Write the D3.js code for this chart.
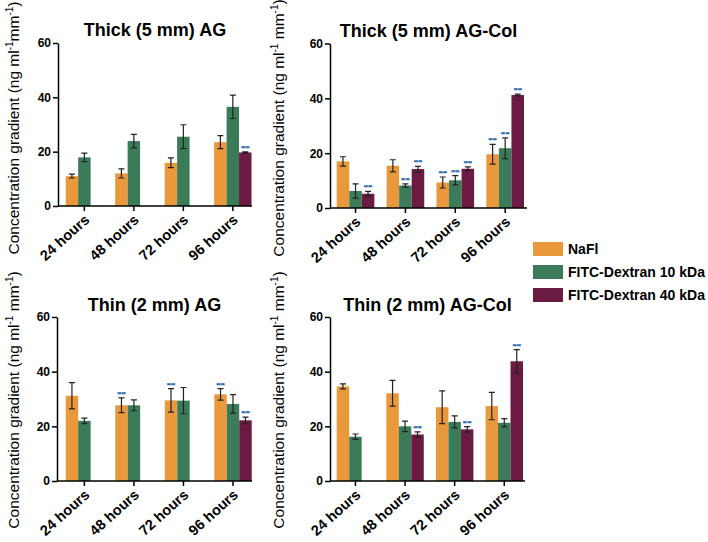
<!DOCTYPE html>
<html>
<head>
<meta charset="utf-8">
<script src="https://cdn.jsdelivr.net/npm/d3@7"></script>
<style>
  body { margin: 0; background: #fff; }
  svg { font-family: 'Liberation Sans', Arial, Helvetica, sans-serif; }
  .axis path, .axis line { stroke: #000; stroke-width: 1.5; }
  .axis text { font-size: 12px; font-weight: bold; fill: #000; }
  .xaxis text { font-size: 14.5px; }
</style>
</head>
<body>
<div id="chart"></div>
<script>
var times = ['24 hours', '48 hours', '72 hours', '96 hours'];
var series = ['NaFl', 'FITC-Dextran 10 kDa', 'FITC-Dextran 40 kDa'];
var colors = ['#e9993c', '#3b7b5a', '#6b1a42'];
var yTicks = [0, 20, 40, 60];

// Thick (5 mm) AG
var thickAgNafl = [11.0, 12.0, 15.9, 23.5];
var thickAgNaflErr = [0.7, 1.7, 1.8, 2.4];
var thickAgFd10 = [17.9, 23.9, 25.5, 36.5];
var thickAgFd10Err = [1.6, 2.5, 4.4, 4.3];
var thickAgFd40 = [null, null, null, 19.7];
var thickAgFd40Err = [0, 0, 0, 0.2];
var thickAgMarks = [[0, 0, 0, 0], [0, 0, 0, 0], [0, 0, 0, 1]];

// Thick (5 mm) AG-Col
var thickColNafl = [17.0, 15.4, 9.3, 19.6];
var thickColNaflErr = [1.7, 2.2, 2.0, 3.6];
var thickColFd10 = [6.2, 8.2, 10.1, 21.8];
var thickColFd10Err = [2.6, 0.6, 1.7, 3.8];
var thickColFd40 = [5.2, 14.2, 14.3, 41.2];
var thickColFd40Err = [0.9, 1.0, 0.7, 0.3];
var thickColMarks = [[0, 0, 1, 1], [0, 1, 1, 1], [1, 1, 1, 1]];

// Thin (2 mm) AG
var thinAgNafl = [31.2, 27.7, 29.5, 31.7];
var thinAgNaflErr = [4.8, 2.7, 4.3, 2.1];
var thinAgFd10 = [22.0, 27.7, 29.4, 28.2];
var thinAgFd10Err = [1.0, 2.0, 4.8, 3.4];
var thinAgFd40 = [null, null, null, 22.2];
var thinAgFd40Err = [0, 0, 0, 1.2];
var thinAgMarks = [[0, 1, 1, 1], [0, 0, 0, 0], [0, 0, 0, 1]];

// Thin (2 mm) AG-Col
var thinColNafl = [34.6, 32.1, 27.0, 27.4];
var thinColNaflErr = [0.9, 4.7, 6.0, 5.0];
var thinColFd10 = [16.2, 20.0, 21.6, 21.3];
var thinColFd10Err = [1.0, 1.9, 2.2, 1.5];
var thinColFd40 = [null, 17.0, 18.9, 43.8];
var thinColFd40Err = [0, 1.0, 1.0, 4.3];
var thinColMarks = [[0, 0, 0, 0], [0, 0, 0, 0], [0, 1, 1, 1]];

var panels = [
  {title: 'Thick (5 mm) AG', means: [thickAgNafl, thickAgFd10, thickAgFd40],
   errs: [thickAgNaflErr, thickAgFd10Err, thickAgFd40Err], marks: thickAgMarks,
   axisX: 58, bands: [65.7, 251.5], axisEnd: 252, y: [206, 43], titleY: 36, labelX: 19, labelY: 128, space: false},
  {title: 'Thick (5 mm) AG-Col', means: [thickColNafl, thickColFd10, thickColFd40],
   errs: [thickColNaflErr, thickColFd10Err, thickColFd40Err], marks: thickColMarks,
   axisX: 330, bands: [336.7, 524], axisEnd: 527, y: [208, 43.5], titleY: 37, labelX: 284, labelY: 128, space: true},
  {title: 'Thin (2 mm) AG', means: [thinAgNafl, thinAgFd10, thinAgFd40],
   errs: [thinAgNaflErr, thinAgFd10Err, thinAgFd40Err], marks: thinAgMarks,
   axisX: 57, bands: [65.7, 251.7], axisEnd: 252, y: [481, 317], titleY: 311, labelX: 19, labelY: 400, space: true},
  {title: 'Thin (2 mm) AG-Col', means: [thinColNafl, thinColFd10, thinColFd40],
   errs: [thinColNaflErr, thinColFd10Err, thinColFd40Err], marks: thinColMarks,
   axisX: 330, bands: [336.7, 523], axisEnd: 525, y: [481, 317], titleY: 311, labelX: 284, labelY: 400, space: true}
];

var svg = d3.select('#chart').append('svg')
  .attr('width', 708)
  .attr('height', 542);

var drawPanel = function(p) {
  var g = svg.append('g');

  var x0 = d3.scaleBand().domain(times).range(p.bands).paddingInner(0.245).paddingOuter(0);
  var x1 = d3.scaleBand().domain(d3.range(series.length)).range([0, x0.bandwidth()]);
  var y = d3.scaleLinear().domain([0, 60]).range(p.y);

  // bars, error bars and significance marks
  series.forEach(function(s, si) {
    var rows = times.map(function(t, ti) {
      return {t: t, v: p.means[si][ti], e: p.errs[si][ti], m: p.marks[si][ti]};
    }).filter(function(d) { return d.v != null; });

    var sg = g.append('g');
    sg.selectAll('rect').data(rows).enter()
      .append('rect')
      .attr('x', function(d) { return x0(d.t) + x1(si); })
      .attr('y', function(d) { return y(d.v); })
      .attr('width', x1.bandwidth())
      .attr('height', function(d) { return y(0) - y(d.v); })
      .attr('fill', colors[si]);

    var cx = function(d) { return x0(d.t) + x1(si) + x1.bandwidth() / 2; };
    var cap = 3;
    sg.selectAll('path.err').data(rows.filter(function(d) { return d.e > 0; })).enter()
      .append('path')
      .attr('fill', 'none')
      .attr('stroke', '#222')
      .attr('stroke-width', 1.2)
      .attr('d', function(d) {
        var xx = cx(d), top = y(d.v + d.e), bot = y(d.v - d.e);
        return 'M' + (xx - cap) + ',' + top + 'H' + (xx + cap) +
          'M' + xx + ',' + top + 'V' + bot +
          'M' + (xx - cap) + ',' + bot + 'H' + (xx + cap);
      });

    sg.selectAll('text.mark').data(rows.filter(function(d) { return d.m; })).enter()
      .append('text')
      .attr('x', cx)
      .attr('y', function(d) { return y(d.v + d.e) - 1; })
      .attr('text-anchor', 'middle')
      .attr('font-size', 13)
      .attr('font-weight', 'bold')
      .attr('fill', '#2e6fb0')
      .attr('stroke', '#2e6fb0')
      .attr('stroke-width', 0.4)
      .text('--');
  });

  // y axis
  g.append('g')
    .attr('class', 'axis')
    .attr('transform', 'translate(' + p.axisX + ',0)')
    .call(d3.axisLeft(y).tickValues(yTicks).tickSize(5).tickSizeOuter(0).tickPadding(2));

  // x axis
  var xa = g.append('g')
    .attr('class', 'axis xaxis')
    .attr('transform', 'translate(0,' + y(0) + ')')
    .call(d3.axisBottom(x0).tickSize(5).tickSizeOuter(0));
  xa.select('.domain').remove();
  xa.append('line')
    .attr('x1', p.axisX).attr('x2', p.axisEnd)
    .attr('stroke', '#000').attr('stroke-width', 1.5);
  xa.selectAll('text')
    .attr('x', 0).attr('y', 0).attr('dy', 0)
    .attr('text-anchor', 'end')
    .attr('transform', 'translate(6,15) rotate(-42)');

  // title
  g.append('text')
    .attr('x', (p.axisX + p.axisEnd) / 2)
    .attr('y', p.titleY)
    .attr('text-anchor', 'middle')
    .attr('font-size', 18)
    .attr('font-weight', 'bold')
    .text(p.title);

  // y label
  var lab = g.append('text')
    .attr('transform', 'translate(' + p.labelX + ',' + p.labelY + ') rotate(-90)')
    .attr('text-anchor', 'middle')
    .attr('font-size', 15.5);
  lab.append('tspan').text('Concentration gradient  (ng ml');
  lab.append('tspan').attr('font-size', 10).attr('dy', -6).text('-1');
  lab.append('tspan').attr('dy', 6).text(p.space ? ' mm' : 'mm');
  lab.append('tspan').attr('font-size', 10).attr('dy', -6).text('-1');
  lab.append('tspan').attr('dy', 6).text(')');
};

panels.forEach(drawPanel);

// legend
var legend = svg.append('g').attr('transform', 'translate(533,242)');
series.forEach(function(s, i) {
  var row = legend.append('g').attr('transform', 'translate(0,' + (i * 23) + ')');
  row.append('rect')
    .attr('width', 30).attr('height', 14)
    .attr('fill', colors[i]);
  row.append('text')
    .attr('x', 35).attr('y', 12)
    .attr('font-size', 14)
    .attr('font-weight', 'bold')
    .text(s);
});
</script>
</body>
</html>
